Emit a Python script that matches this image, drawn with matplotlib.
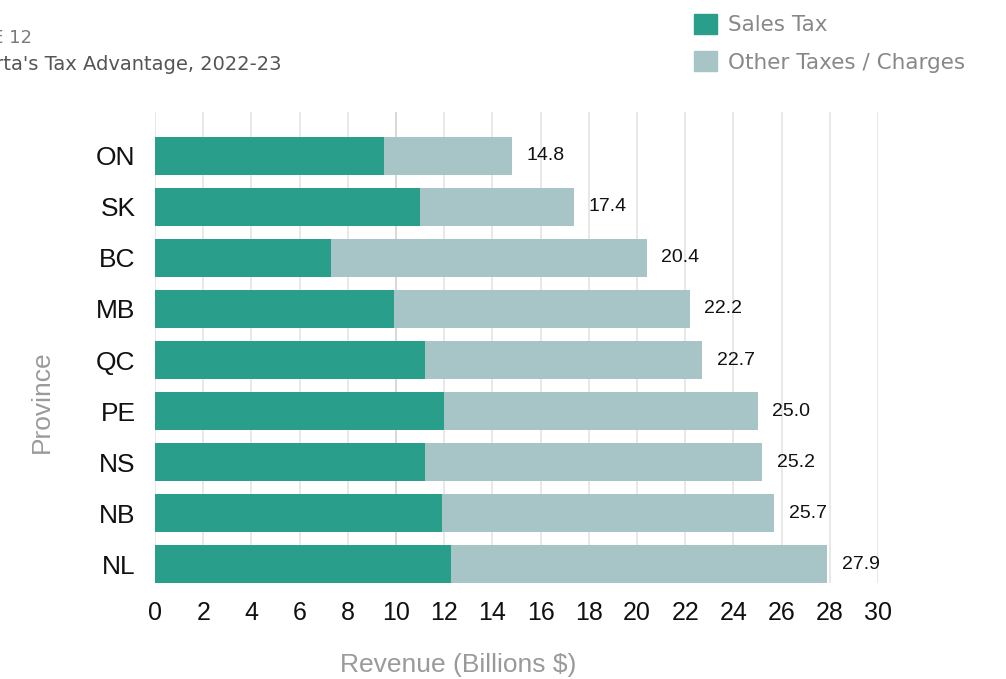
import matplotlib.pyplot as plt
import numpy as np
from matplotlib.patches import Patch

provinces = ["ON", "SK", "BC", "MB", "QC", "PE", "NS", "NB", "NL"]
totals = [14.8, 17.4, 20.4, 22.2, 22.7, 25.0, 25.2, 25.7, 27.9]
sales_tax = [9.5, 11.0, 7.3, 9.9, 11.2, 12.0, 11.2, 11.9, 12.3]
other = [t - s for t, s in zip(totals, sales_tax)]
x_ticks = list(range(0, 31, 2))

SALES_COLOR = "#299e8b"
OTHER_COLOR = "#a7c5c7"

fig = plt.figure(figsize=(10.06, 6.79), dpi=100)
ax = fig.add_axes([155 / 1006, 96 / 679, 723 / 1006, 471 / 679])

y = np.arange(len(provinces))
ax.barh(y, sales_tax, height=0.74, color=SALES_COLOR, zorder=3)
ax.barh(y, other, left=sales_tax, height=0.74, color=OTHER_COLOR, zorder=3)

for yi, total in zip(y, totals):
    ax.text(total + 0.6, yi, f"{total:.1f}", va="center", ha="left",
            fontsize=14, family="Liberation Sans", color="#111111")

ax.set_xlim(0, 30)
ax.set_ylim(8.37, -0.86)
ax.set_xticks(x_ticks)
ax.set_yticks(y)
ax.set_yticklabels(provinces)
ax.tick_params(length=0)
ax.tick_params(axis="x", pad=13, labelsize=18)
ax.tick_params(axis="y", pad=14, labelsize=19)
for lbl in ax.get_xticklabels() + ax.get_yticklabels():
    lbl.set_family("Liberation Sans")
    lbl.set_color("#111111")

ax.grid(axis="x", color="#e2e2e2", linewidth=1.1, zorder=0)
ax.axvline(10, color="#aaaaaa", linewidth=1.1, zorder=1)
for s in ax.spines.values():
    s.set_visible(False)

fig.text(42 / 1006, 1 - 402 / 679, "Province", rotation=90, ha="center",
         va="center", fontsize=19, family="Liberation Sans", color="#9a9a9a")
fig.text(458 / 1006, 1 - 665 / 679, "Revenue (Billions $)", ha="center",
         va="center", fontsize=19, family="Liberation Sans", color="#9a9a9a")

# heading sits partly outside the left edge
fig.text(32 / 1006, 1 - 38 / 679, "FIGURE 12", ha="right", va="center",
         fontsize=13, family="DejaVu Sans", color="#7a7a7a")
fig.text(282 / 1006, 1 - 65 / 679, "Alberta's Tax Advantage, 2022-23",
         ha="right", va="center", fontsize=14, family="DejaVu Sans",
         color="#555555")

handles = [Patch(color=SALES_COLOR, label="Sales Tax"),
           Patch(color=OTHER_COLOR, label="Other Taxes / Charges")]
fig.legend(handles=handles, loc="upper left",
           bbox_to_anchor=(694 / 1006, 1 - 14 / 679), frameon=False,
           borderpad=0, borderaxespad=0,
           handlelength=1.05, handleheight=1.05, handletextpad=0.55,
           labelspacing=0.75, prop={"family": "DejaVu Sans", "size": 15.5},
           labelcolor="#888888")

fig.savefig("out.png", dpi=100)
